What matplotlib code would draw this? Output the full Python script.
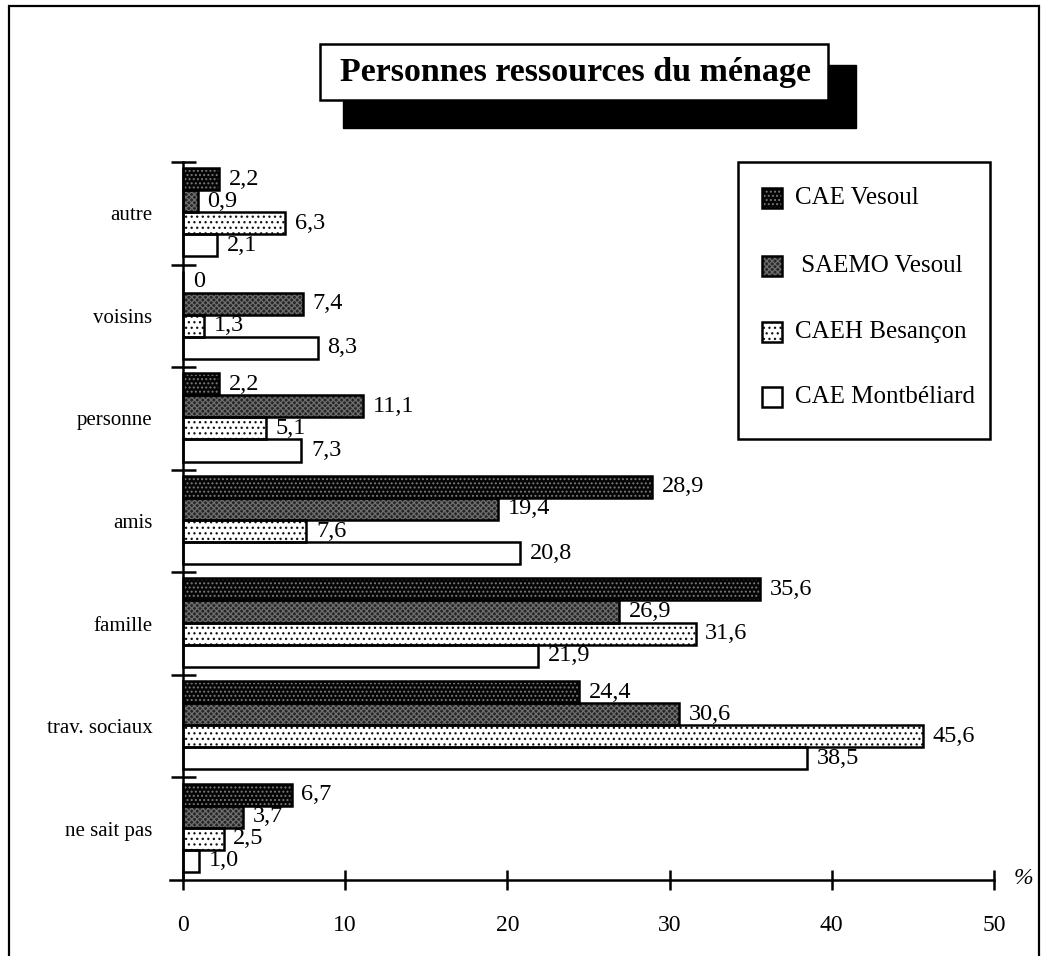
import numpy as np
import matplotlib.pyplot as plt
from matplotlib.patches import Rectangle

# Données (en %)
categories = ["autre", "voisins", "personne", "amis", "famille",
              "trav. sociaux", "ne sait pas"]
series_names = ["CAE Vesoul", " SAEMO Vesoul", "CAEH Besançon", "CAE Montbéliard"]
cae_vesoul = [2.2, 0, 2.2, 28.9, 35.6, 24.4, 6.7]
saemo_vesoul = [0.9, 7.4, 11.1, 19.4, 26.9, 30.6, 3.7]
caeh_besancon = [6.3, 1.3, 5.1, 7.6, 31.6, 45.6, 2.5]
cae_montbeliard = [2.1, 8.3, 7.3, 20.8, 21.9, 38.5, 1.0]
x_ticks = [0, 10, 20, 30, 40, 50]

all_series = [cae_vesoul, saemo_vesoul, caeh_besancon, cae_montbeliard]

# Styles des trames (fond, couleur de la trame, motif)
styles = [
    dict(face="#050505", hatch_col="#7a7a7a", hatch="...."),
    dict(face="#262626", hatch_col="#6e6e6e", hatch="xxxxxx"),
    dict(face="white", hatch_col="#111111", hatch="..."),
    dict(face="white", hatch_col="white", hatch=None),
]

W, H = 1046, 956
plt.rcParams["font.family"] = ["Liberation Serif", "DejaVu Serif"]
plt.rcParams["hatch.linewidth"] = 0.9

fig = plt.figure(figsize=(W / 100, H / 100), dpi=100)


def fx(x):
    return x / W


def fy(y):
    return 1 - y / H


# axes : x=-0.8 -> px 170, x=50 -> px 994 ; y de 162 a 880
ax = fig.add_axes([fx(170), fy(880), fx(994) - fx(170), (880 - 162) / H])
ax.set_xlim(-0.8, 50)
ax.set_ylim(0, 7)

n = len(categories)
bar_h = 0.215
top_gap = 0.06
for k, (vals, st) in enumerate(zip(all_series, styles)):
    ys = [n - g - top_gap - bar_h * (k + 0.5) for g in range(n)]
    ax.barh(ys, vals, height=bar_h, color=st["face"], edgecolor=st["hatch_col"],
            hatch=st["hatch"], linewidth=0, zorder=2)
    ax.barh(ys, vals, height=bar_h, fill=False, edgecolor="black",
            linewidth=1.8, zorder=3)
    for y, v in zip(ys, vals):
        lab = "0" if v == 0 else f"{v:.1f}".replace(".", ",")
        ax.text(v + 0.6, y, lab, fontsize=17.5, va="center", ha="left", zorder=4)

# axes et graduations
for s in ["top", "right"]:
    ax.spines[s].set_visible(False)
ax.spines["left"].set_position(("data", 0))
ax.spines["left"].set_linewidth(1.8)
ax.spines["bottom"].set_linewidth(1.8)

ax.set_xticks(x_ticks)
ax.set_xticklabels([str(t) for t in x_ticks])
ax.tick_params(axis="x", direction="inout", length=15, width=1.8, pad=18,
               labelsize=17)

ax.set_yticks(np.arange(1, n + 1))
ax.set_yticklabels([])
ax.set_yticks(np.arange(n) + 0.5, minor=True)
ax.set_yticklabels(categories[::-1], minor=True)
ax.tick_params(axis="y", which="major", direction="inout", length=18, width=1.8)
ax.tick_params(axis="y", which="minor", length=0, pad=22, labelsize=15)

fig.text(fx(1023), fy(878), "%", fontsize=17, style="italic",
         ha="center", va="center")

# titre avec ombre
fig.add_artist(Rectangle((fx(343), fy(128)), fx(856) - fx(343), (128 - 65) / H,
                         transform=fig.transFigure, facecolor="black",
                         edgecolor="black"))
fig.add_artist(Rectangle((fx(320), fy(100)), fx(828) - fx(320), (100 - 44) / H,
                         transform=fig.transFigure, facecolor="white",
                         edgecolor="black", linewidth=1.8))
fig.text(fx(575), fy(72), "Personnes ressources du ménage", fontsize=24.5,
         fontweight="bold", ha="center", va="center")

# légende
fig.add_artist(Rectangle((fx(738), fy(439)), fx(990) - fx(738), (439 - 162) / H,
                         transform=fig.transFigure, facecolor="white",
                         edgecolor="black", linewidth=1.8, zorder=5))
rows = [198, 266, 332, 397]
for name, st, yr in zip(series_names, styles, rows):
    fig.add_artist(Rectangle((fx(762), fy(yr + 10)), 20 / W, 20 / H,
                             transform=fig.transFigure, facecolor=st["face"],
                             edgecolor=st["hatch_col"], hatch=st["hatch"],
                             linewidth=0, zorder=6))
    fig.add_artist(Rectangle((fx(762), fy(yr + 10)), 20 / W, 20 / H,
                             transform=fig.transFigure, fill=False,
                             edgecolor="black", linewidth=1.8, zorder=7))
    fig.text(fx(795), fy(yr), name, fontsize=18, ha="left", va="center",
             zorder=8)

# cadre extérieur
fig.add_artist(Rectangle((fx(9), fy(1000)), fx(1039) - fx(9), (1000 - 6) / H,
                         transform=fig.transFigure, fill=False,
                         edgecolor="black", linewidth=1.6))

fig.savefig("out.png", dpi=100)
